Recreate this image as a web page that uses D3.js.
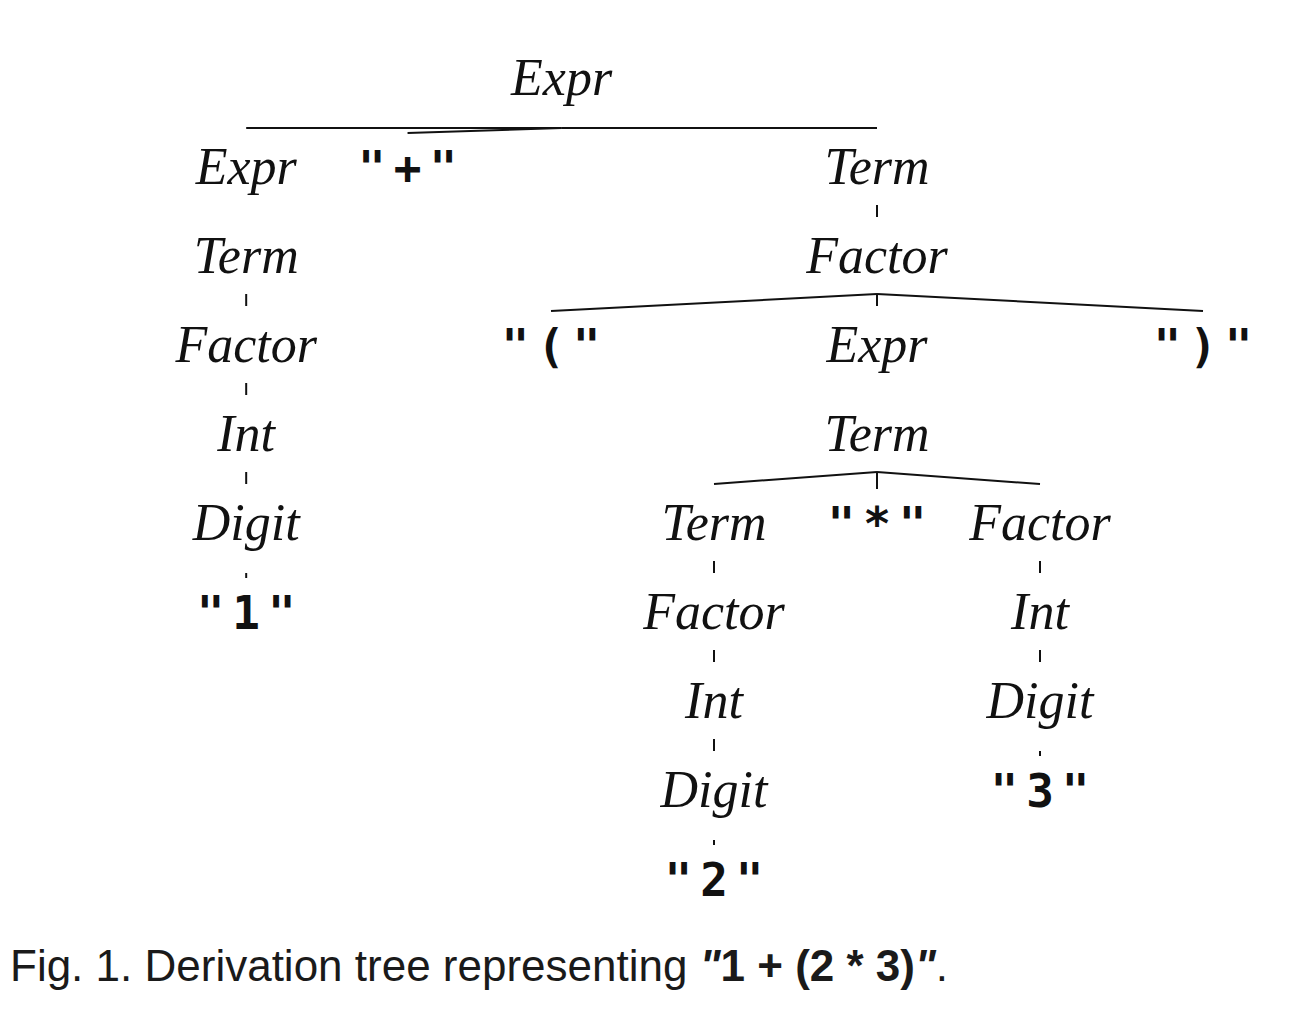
<!DOCTYPE html>
<html>
<head>
<meta charset="utf-8">
<script src="https://cdn.jsdelivr.net/npm/d3@7"></script>
<style>
  body { margin: 0; background: #fff; }
  svg { display: block; }
</style>
</head>
<body>
<svg id="chart" width="1306" height="1034"></svg>
<script>
// derivation tree of "1 + (2 * 3)", one entry per node, parent given by index
var labels = ["Expr", "Expr", "\"+\"", "Term", "Term", "Factor", "Int", "Digit", "\"1\"",
              "Factor", "\"(\"", "Expr", "\")\"", "Term", "Term", "\"*\"", "Factor",
              "Factor", "Int", "Digit", "\"2\"", "Int", "Digit", "\"3\""];
var parents = [null, 0, 0, 0, 1, 4, 5, 6, 7, 3, 9, 9, 9, 11, 13, 13, 13, 14, 17, 18, 19, 16, 21, 22];
// column of each terminal, left to right: "1" "+" "(" "2" "*" "3" ")"
var leafCols = [-3.87, -2.88, -2, -1, 0, 1, 2];
var captionText = "Fig. 1. Derivation tree representing ";
var captionExpr = "1 + (2 * 3)";

var svg = d3.select("#chart");

var root = d3.stratify()
  .id(function(d) { return d.id; })
  .parentId(function(d) { return d.parent; })(
    labels.map(function(l, i) {
      return { id: String(i), parent: parents[i] === null ? null : String(parents[i]), label: l };
    }));

root.leaves().forEach(function(n, i) { n.col = leafCols[i]; });
// inner nodes sit halfway between their first and last child
root.eachAfter(function(n) {
  if (n.children) n.col = (n.children[0].col + n.children[n.children.length - 1].col) / 2;
});

var x = d3.scaleLinear().domain([0, 1]).range([877, 1040]);
var y = d3.scaleLinear().domain([0, 9]).range([95, 896]);

function isTerminal(n) { return n.data.label.charAt(0) === "\""; }
function hasDescender(n) { return /[pg]/.test(n.data.label); }

var monoSpacing = 8;

svg.append("g").selectAll("line")
  .data(root.links())
  .enter().append("line")
  .attr("x1", function(d) { return x(d.source.col); })
  .attr("y1", function(d) { return y(d.source.depth) + (hasDescender(d.source) ? 33 : 21); })
  .attr("x2", function(d) { return x(d.target.col); })
  .attr("y2", function(d) { return y(d.target.depth) - (isTerminal(d.target) ? 51 : 56); })
  .style("stroke", "#111")
  .style("stroke-width", 2);

svg.append("g").selectAll("text")
  .data(root.descendants())
  .enter().append("text")
  .attr("x", function(d) { return x(d.col) + (isTerminal(d) ? monoSpacing / 2 : 0); })
  .attr("y", function(d) { return y(d.depth); })
  .attr("text-anchor", "middle")
  .style("fill", "#111")
  .style("font-family", function(d) { return isTerminal(d) ? "'DejaVu Sans Mono', monospace" : "'Liberation Serif', serif"; })
  .style("font-style", function(d) { return isTerminal(d) ? "normal" : "italic"; })
  .style("font-weight", function(d) { return isTerminal(d) ? "bold" : "normal"; })
  .style("font-size", function(d) { return isTerminal(d) ? "46px" : "52px"; })
  .style("letter-spacing", function(d) { return isTerminal(d) ? monoSpacing + "px" : "0px"; })
  .text(function(d) { return d.data.label; });

var cap = svg.append("text")
  .attr("x", 10)
  .attr("y", 981)
  .style("fill", "#1a1a1a")
  .style("font-family", "'Liberation Sans', Arial, sans-serif")
  .style("font-size", "44px");
cap.append("tspan").text(captionText);
cap.append("tspan").style("font-weight", "bold").style("font-style", "italic").text("\"");
cap.append("tspan").style("font-weight", "bold").text(captionExpr);
cap.append("tspan").style("font-weight", "bold").style("font-style", "italic").text("\"");
cap.append("tspan").text(".");
</script>
</body>
</html>
